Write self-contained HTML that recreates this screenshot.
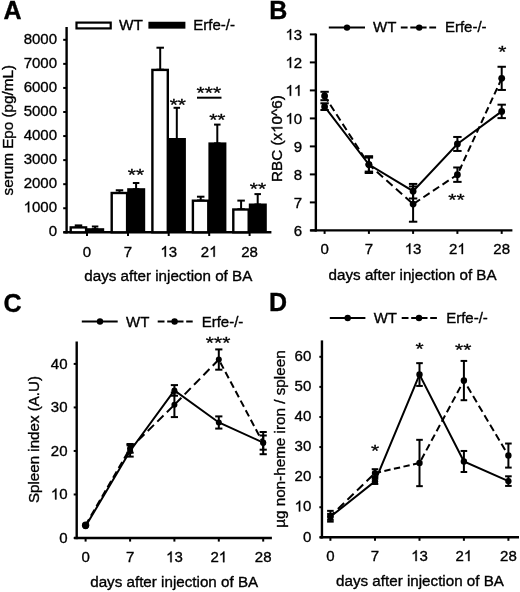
<!DOCTYPE html>
<html><head><meta charset="utf-8"><style>
html,body{margin:0;padding:0;background:#fff;}
svg{display:block;filter:blur(0.35px);}
text{font-family:"Liberation Sans", sans-serif;fill:#000;stroke:#000;stroke-width:0.35px;}
</style></head><body>
<svg width="520" height="592" viewBox="0 0 520 592">
<rect width="520" height="592" fill="#fff"/>
<text x="3.40" y="19.20" font-size="25" text-anchor="start" font-weight="bold">A</text>
<line x1="66.60" y1="27.00" x2="66.60" y2="233.50" stroke="#000" stroke-width="2.4"/>
<line x1="63.40" y1="232.30" x2="271.40" y2="232.30" stroke="#000" stroke-width="2.4"/>
<line x1="63.20" y1="232.30" x2="66.60" y2="232.30" stroke="#000" stroke-width="2"/>
<text x="48.66" y="236.40" font-size="15">0</text>
<line x1="63.20" y1="208.24" x2="66.60" y2="208.24" stroke="#000" stroke-width="2"/>
<polygon points="29.23,212.34 27.91,212.34 27.91,203.94 27.43,204.39 26.66,204.85 25.88,205.30 25.27,205.53 25.27,204.25 26.37,203.73 27.20,202.99 28.03,202.25 28.37,201.56 29.23,201.56" fill="#000" stroke="#000" stroke-width="0.35"/>
<text x="31.98" y="212.34" font-size="15">0</text>
<text x="40.32" y="212.34" font-size="15">0</text>
<text x="48.66" y="212.34" font-size="15">0</text>
<line x1="63.20" y1="184.18" x2="66.60" y2="184.18" stroke="#000" stroke-width="2"/>
<text x="23.64" y="188.28" font-size="15">2</text>
<text x="31.98" y="188.28" font-size="15">0</text>
<text x="40.32" y="188.28" font-size="15">0</text>
<text x="48.66" y="188.28" font-size="15">0</text>
<line x1="63.20" y1="160.12" x2="66.60" y2="160.12" stroke="#000" stroke-width="2"/>
<text x="23.64" y="164.22" font-size="15">3</text>
<text x="31.98" y="164.22" font-size="15">0</text>
<text x="40.32" y="164.22" font-size="15">0</text>
<text x="48.66" y="164.22" font-size="15">0</text>
<line x1="63.20" y1="136.06" x2="66.60" y2="136.06" stroke="#000" stroke-width="2"/>
<text x="23.64" y="140.16" font-size="15">4</text>
<text x="31.98" y="140.16" font-size="15">0</text>
<text x="40.32" y="140.16" font-size="15">0</text>
<text x="48.66" y="140.16" font-size="15">0</text>
<line x1="63.20" y1="112.00" x2="66.60" y2="112.00" stroke="#000" stroke-width="2"/>
<text x="23.64" y="116.10" font-size="15">5</text>
<text x="31.98" y="116.10" font-size="15">0</text>
<text x="40.32" y="116.10" font-size="15">0</text>
<text x="48.66" y="116.10" font-size="15">0</text>
<line x1="63.20" y1="87.94" x2="66.60" y2="87.94" stroke="#000" stroke-width="2"/>
<text x="23.64" y="92.04" font-size="15">6</text>
<text x="31.98" y="92.04" font-size="15">0</text>
<text x="40.32" y="92.04" font-size="15">0</text>
<text x="48.66" y="92.04" font-size="15">0</text>
<line x1="63.20" y1="63.88" x2="66.60" y2="63.88" stroke="#000" stroke-width="2"/>
<text x="23.64" y="67.98" font-size="15">7</text>
<text x="31.98" y="67.98" font-size="15">0</text>
<text x="40.32" y="67.98" font-size="15">0</text>
<text x="48.66" y="67.98" font-size="15">0</text>
<line x1="63.20" y1="39.82" x2="66.60" y2="39.82" stroke="#000" stroke-width="2"/>
<text x="23.64" y="43.92" font-size="15">8</text>
<text x="31.98" y="43.92" font-size="15">0</text>
<text x="40.32" y="43.92" font-size="15">0</text>
<text x="48.66" y="43.92" font-size="15">0</text>
<line x1="87.00" y1="232.30" x2="87.00" y2="236.00" stroke="#000" stroke-width="2"/>
<text x="82.83" y="256.70" font-size="15">0</text>
<line x1="128.00" y1="232.30" x2="128.00" y2="236.00" stroke="#000" stroke-width="2"/>
<text x="123.83" y="256.70" font-size="15">7</text>
<line x1="168.70" y1="232.30" x2="168.70" y2="236.00" stroke="#000" stroke-width="2"/>
<polygon points="165.95,256.70 164.63,256.70 164.63,248.30 164.15,248.75 163.38,249.21 162.60,249.66 161.99,249.89 161.99,248.61 163.09,248.09 163.92,247.35 164.75,246.61 165.09,245.92 165.95,245.92" fill="#000" stroke="#000" stroke-width="0.35"/>
<text x="168.70" y="256.70" font-size="15">3</text>
<line x1="209.20" y1="232.30" x2="209.20" y2="236.00" stroke="#000" stroke-width="2"/>
<text x="200.86" y="256.70" font-size="15">2</text>
<polygon points="214.79,256.70 213.47,256.70 213.47,248.30 212.99,248.75 212.22,249.21 211.44,249.66 210.83,249.89 210.83,248.61 211.93,248.09 212.76,247.35 213.59,246.61 213.93,245.92 214.79,245.92" fill="#000" stroke="#000" stroke-width="0.35"/>
<line x1="249.60" y1="232.30" x2="249.60" y2="236.00" stroke="#000" stroke-width="2"/>
<text x="241.26" y="256.70" font-size="15">2</text>
<text x="249.60" y="256.70" font-size="15">8</text>
<text x="168.30" y="281.00" font-size="15.2" text-anchor="middle">days after injection of BA</text>
<text transform="translate(12.60,130.20) rotate(-90)" x="0" y="0" font-size="15.25" text-anchor="middle">serum Epo (pg/mL)</text>
<line x1="78.50" y1="225.40" x2="78.50" y2="227.20" stroke="#000" stroke-width="2"/>
<line x1="74.75" y1="225.40" x2="82.25" y2="225.40" stroke="#000" stroke-width="2"/>
<line x1="74.75" y1="227.20" x2="82.25" y2="227.20" stroke="#000" stroke-width="2"/>
<rect x="70.70" y="227.40" width="15.40" height="4.90" fill="#fff" stroke="#000" stroke-width="2.4"/>
<line x1="95.10" y1="226.50" x2="95.10" y2="229.20" stroke="#000" stroke-width="2"/>
<line x1="91.85" y1="226.50" x2="98.35" y2="226.50" stroke="#000" stroke-width="2"/>
<line x1="91.85" y1="229.20" x2="98.35" y2="229.20" stroke="#000" stroke-width="2"/>
<rect x="86.20" y="228.20" width="18.00" height="4.10" fill="#000"/>
<line x1="119.50" y1="190.25" x2="119.50" y2="192.80" stroke="#000" stroke-width="2"/>
<line x1="115.75" y1="190.25" x2="123.25" y2="190.25" stroke="#000" stroke-width="2"/>
<line x1="115.75" y1="192.80" x2="123.25" y2="192.80" stroke="#000" stroke-width="2"/>
<rect x="111.70" y="193.00" width="15.40" height="39.30" fill="#fff" stroke="#000" stroke-width="2.4"/>
<line x1="136.10" y1="183.00" x2="136.10" y2="189.20" stroke="#000" stroke-width="2"/>
<line x1="132.85" y1="183.00" x2="139.35" y2="183.00" stroke="#000" stroke-width="2"/>
<line x1="132.85" y1="189.20" x2="139.35" y2="189.20" stroke="#000" stroke-width="2"/>
<rect x="127.20" y="188.20" width="18.00" height="44.10" fill="#000"/>
<line x1="160.20" y1="47.70" x2="160.20" y2="69.70" stroke="#000" stroke-width="2"/>
<line x1="156.45" y1="47.70" x2="163.95" y2="47.70" stroke="#000" stroke-width="2"/>
<line x1="156.45" y1="69.70" x2="163.95" y2="69.70" stroke="#000" stroke-width="2"/>
<rect x="152.40" y="69.90" width="15.40" height="162.40" fill="#fff" stroke="#000" stroke-width="2.4"/>
<line x1="176.80" y1="107.80" x2="176.80" y2="139.00" stroke="#000" stroke-width="2"/>
<line x1="173.55" y1="107.80" x2="180.05" y2="107.80" stroke="#000" stroke-width="2"/>
<line x1="173.55" y1="139.00" x2="180.05" y2="139.00" stroke="#000" stroke-width="2"/>
<rect x="167.90" y="138.00" width="18.00" height="94.30" fill="#000"/>
<line x1="200.70" y1="196.70" x2="200.70" y2="200.50" stroke="#000" stroke-width="2"/>
<line x1="196.95" y1="196.70" x2="204.45" y2="196.70" stroke="#000" stroke-width="2"/>
<line x1="196.95" y1="200.50" x2="204.45" y2="200.50" stroke="#000" stroke-width="2"/>
<rect x="192.90" y="200.70" width="15.40" height="31.60" fill="#fff" stroke="#000" stroke-width="2.4"/>
<line x1="217.30" y1="124.60" x2="217.30" y2="143.40" stroke="#000" stroke-width="2"/>
<line x1="214.05" y1="124.60" x2="220.55" y2="124.60" stroke="#000" stroke-width="2"/>
<line x1="214.05" y1="143.40" x2="220.55" y2="143.40" stroke="#000" stroke-width="2"/>
<rect x="208.40" y="142.40" width="18.00" height="89.90" fill="#000"/>
<line x1="241.10" y1="200.60" x2="241.10" y2="209.30" stroke="#000" stroke-width="2"/>
<line x1="237.35" y1="200.60" x2="244.85" y2="200.60" stroke="#000" stroke-width="2"/>
<line x1="237.35" y1="209.30" x2="244.85" y2="209.30" stroke="#000" stroke-width="2"/>
<rect x="233.30" y="209.50" width="15.40" height="22.80" fill="#fff" stroke="#000" stroke-width="2.4"/>
<line x1="257.70" y1="194.10" x2="257.70" y2="204.50" stroke="#000" stroke-width="2"/>
<line x1="254.45" y1="194.10" x2="260.95" y2="194.10" stroke="#000" stroke-width="2"/>
<line x1="254.45" y1="204.50" x2="260.95" y2="204.50" stroke="#000" stroke-width="2"/>
<rect x="248.80" y="203.50" width="18.00" height="28.80" fill="#000"/>
<text transform="translate(136.00,180.65) scale(1,0.82)" x="0" y="0" font-size="21" text-anchor="middle">**</text>
<text transform="translate(177.80,110.55) scale(1,0.82)" x="0" y="0" font-size="21" text-anchor="middle">**</text>
<text transform="translate(208.80,98.85) scale(1,0.82)" x="0" y="0" font-size="21" text-anchor="middle">***</text>
<line x1="197.00" y1="97.70" x2="221.50" y2="97.70" stroke="#000" stroke-width="2"/>
<text transform="translate(217.30,125.55) scale(1,0.82)" x="0" y="0" font-size="21" text-anchor="middle">**</text>
<text transform="translate(258.00,194.85) scale(1,0.82)" x="0" y="0" font-size="21" text-anchor="middle">**</text>
<rect x="76.5" y="22.6" width="34.2" height="5.8" fill="#fff" stroke="#000" stroke-width="2.2"/>
<rect x="148.4" y="21.75" width="37" height="6.9" fill="#000"/>
<text x="119.10" y="30.30" font-size="15.4" text-anchor="start">WT</text>
<text x="193.30" y="30.30" font-size="15" text-anchor="start">Erfe-/-</text>
<text x="269.20" y="19.20" font-size="25" text-anchor="start" font-weight="bold">B</text>
<line x1="315.85" y1="33.60" x2="315.85" y2="231.60" stroke="#000" stroke-width="2.4"/>
<line x1="310.30" y1="230.40" x2="512.40" y2="230.40" stroke="#000" stroke-width="2.4"/>
<line x1="309.85" y1="230.40" x2="315.85" y2="230.40" stroke="#000" stroke-width="2"/>
<text x="293.86" y="235.80" font-size="15">6</text>
<line x1="309.85" y1="202.40" x2="315.85" y2="202.40" stroke="#000" stroke-width="2"/>
<text x="293.86" y="207.80" font-size="15">7</text>
<line x1="309.85" y1="174.40" x2="315.85" y2="174.40" stroke="#000" stroke-width="2"/>
<text x="293.86" y="179.80" font-size="15">8</text>
<line x1="309.85" y1="146.40" x2="315.85" y2="146.40" stroke="#000" stroke-width="2"/>
<text x="293.86" y="151.80" font-size="15">9</text>
<line x1="309.85" y1="118.40" x2="315.85" y2="118.40" stroke="#000" stroke-width="2"/>
<polygon points="291.11,123.80 289.79,123.80 289.79,115.40 289.31,115.85 288.54,116.31 287.76,116.76 287.15,116.99 287.15,115.71 288.25,115.19 289.08,114.45 289.91,113.71 290.25,113.02 291.11,113.02" fill="#000" stroke="#000" stroke-width="0.35"/>
<text x="293.86" y="123.80" font-size="15">0</text>
<line x1="309.85" y1="90.40" x2="315.85" y2="90.40" stroke="#000" stroke-width="2"/>
<polygon points="291.11,95.80 289.79,95.80 289.79,87.40 289.31,87.85 288.54,88.31 287.76,88.76 287.15,88.99 287.15,87.71 288.25,87.19 289.08,86.45 289.91,85.71 290.25,85.02 291.11,85.02" fill="#000" stroke="#000" stroke-width="0.35"/>
<polygon points="299.45,95.80 298.13,95.80 298.13,87.40 297.65,87.85 296.88,88.31 296.10,88.76 295.49,88.99 295.49,87.71 296.59,87.19 297.42,86.45 298.25,85.71 298.59,85.02 299.45,85.02" fill="#000" stroke="#000" stroke-width="0.35"/>
<line x1="309.85" y1="62.40" x2="315.85" y2="62.40" stroke="#000" stroke-width="2"/>
<polygon points="291.11,67.80 289.79,67.80 289.79,59.40 289.31,59.85 288.54,60.31 287.76,60.76 287.15,60.99 287.15,59.71 288.25,59.19 289.08,58.45 289.91,57.71 290.25,57.02 291.11,57.02" fill="#000" stroke="#000" stroke-width="0.35"/>
<text x="293.86" y="67.80" font-size="15">2</text>
<line x1="309.85" y1="34.40" x2="315.85" y2="34.40" stroke="#000" stroke-width="2"/>
<polygon points="291.11,39.80 289.79,39.80 289.79,31.40 289.31,31.85 288.54,32.31 287.76,32.76 287.15,32.99 287.15,31.71 288.25,31.19 289.08,30.45 289.91,29.71 290.25,29.02 291.11,29.02" fill="#000" stroke="#000" stroke-width="0.35"/>
<text x="293.86" y="39.80" font-size="15">3</text>
<line x1="324.60" y1="230.40" x2="324.60" y2="233.90" stroke="#000" stroke-width="2"/>
<text x="320.43" y="254.10" font-size="15">0</text>
<line x1="368.90" y1="230.40" x2="368.90" y2="233.90" stroke="#000" stroke-width="2"/>
<text x="364.73" y="254.10" font-size="15">7</text>
<line x1="413.10" y1="230.40" x2="413.10" y2="233.90" stroke="#000" stroke-width="2"/>
<polygon points="410.35,254.10 409.03,254.10 409.03,245.70 408.55,246.15 407.78,246.61 407.00,247.06 406.39,247.29 406.39,246.01 407.49,245.49 408.32,244.75 409.15,244.01 409.49,243.32 410.35,243.32" fill="#000" stroke="#000" stroke-width="0.35"/>
<text x="413.10" y="254.10" font-size="15">3</text>
<line x1="457.40" y1="230.40" x2="457.40" y2="233.90" stroke="#000" stroke-width="2"/>
<text x="449.06" y="254.10" font-size="15">2</text>
<polygon points="462.99,254.10 461.67,254.10 461.67,245.70 461.19,246.15 460.42,246.61 459.64,247.06 459.03,247.29 459.03,246.01 460.13,245.49 460.96,244.75 461.79,244.01 462.13,243.32 462.99,243.32" fill="#000" stroke="#000" stroke-width="0.35"/>
<line x1="501.70" y1="230.40" x2="501.70" y2="233.90" stroke="#000" stroke-width="2"/>
<text x="493.36" y="254.10" font-size="15">2</text>
<text x="501.70" y="254.10" font-size="15">8</text>
<text x="412.60" y="280.40" font-size="15.2" text-anchor="middle">days after injection of BA</text>
<g transform="translate(282.40,138.60) rotate(-90)"><text x="-43.47" y="0" font-size="15.27">RBC (x</text><polygon points="11.43,0.00 10.08,0.00 10.08,-8.55 9.60,-8.09 8.81,-7.63 8.02,-7.17 7.39,-6.93 7.39,-8.23 8.52,-8.76 9.36,-9.51 10.20,-10.27 10.55,-10.98 11.43,-10.98" fill="#000" stroke="#000" stroke-width="0.35"/><text x="14.23" y="0" font-size="15.27">0^6)</text></g>
<line x1="324.60" y1="103.28" x2="324.60" y2="110.00" stroke="#000" stroke-width="2"/>
<line x1="320.40" y1="103.28" x2="328.80" y2="103.28" stroke="#000" stroke-width="2"/>
<line x1="320.40" y1="110.00" x2="328.80" y2="110.00" stroke="#000" stroke-width="2"/>
<line x1="324.60" y1="91.80" x2="324.60" y2="100.20" stroke="#000" stroke-width="2"/>
<line x1="320.40" y1="91.80" x2="328.80" y2="91.80" stroke="#000" stroke-width="2"/>
<line x1="320.40" y1="100.20" x2="328.80" y2="100.20" stroke="#000" stroke-width="2"/>
<line x1="368.90" y1="156.20" x2="368.90" y2="173.00" stroke="#000" stroke-width="2"/>
<line x1="364.70" y1="156.20" x2="373.10" y2="156.20" stroke="#000" stroke-width="2"/>
<line x1="364.70" y1="173.00" x2="373.10" y2="173.00" stroke="#000" stroke-width="2"/>
<line x1="368.90" y1="157.60" x2="368.90" y2="171.60" stroke="#000" stroke-width="2"/>
<line x1="364.70" y1="157.60" x2="373.10" y2="157.60" stroke="#000" stroke-width="2"/>
<line x1="364.70" y1="171.60" x2="373.10" y2="171.60" stroke="#000" stroke-width="2"/>
<line x1="413.10" y1="183.92" x2="413.10" y2="198.48" stroke="#000" stroke-width="2"/>
<line x1="408.90" y1="183.92" x2="417.30" y2="183.92" stroke="#000" stroke-width="2"/>
<line x1="408.90" y1="198.48" x2="417.30" y2="198.48" stroke="#000" stroke-width="2"/>
<line x1="413.10" y1="186.44" x2="413.10" y2="221.72" stroke="#000" stroke-width="2"/>
<line x1="408.90" y1="186.44" x2="417.30" y2="186.44" stroke="#000" stroke-width="2"/>
<line x1="408.90" y1="221.72" x2="417.30" y2="221.72" stroke="#000" stroke-width="2"/>
<line x1="457.40" y1="136.96" x2="457.40" y2="150.96" stroke="#000" stroke-width="2"/>
<line x1="453.20" y1="136.96" x2="461.60" y2="136.96" stroke="#000" stroke-width="2"/>
<line x1="453.20" y1="150.96" x2="461.60" y2="150.96" stroke="#000" stroke-width="2"/>
<line x1="457.40" y1="167.48" x2="457.40" y2="181.88" stroke="#000" stroke-width="2"/>
<line x1="453.20" y1="167.48" x2="461.60" y2="167.48" stroke="#000" stroke-width="2"/>
<line x1="453.20" y1="181.88" x2="461.60" y2="181.88" stroke="#000" stroke-width="2"/>
<line x1="501.70" y1="104.68" x2="501.70" y2="118.12" stroke="#000" stroke-width="2"/>
<line x1="497.50" y1="104.68" x2="505.90" y2="104.68" stroke="#000" stroke-width="2"/>
<line x1="497.50" y1="118.12" x2="505.90" y2="118.12" stroke="#000" stroke-width="2"/>
<line x1="501.70" y1="66.77" x2="501.70" y2="89.95" stroke="#000" stroke-width="2"/>
<line x1="497.50" y1="66.77" x2="505.90" y2="66.77" stroke="#000" stroke-width="2"/>
<line x1="497.50" y1="89.95" x2="505.90" y2="89.95" stroke="#000" stroke-width="2"/>
<polyline points="324.60,106.64 368.90,164.60 413.10,191.20 457.40,143.96 501.70,111.40" fill="none" stroke="#000" stroke-width="2"/>
<path d="M324.60 96.00L328.11 101.43 M330.27 104.78L334.27 110.98 M336.44 114.33L340.44 120.53 M342.60 123.88L346.61 130.08 M348.77 133.43L352.78 139.63 M354.94 142.98L358.94 149.18 M361.11 152.53L365.11 158.73 M367.27 162.08L368.90 164.60 M368.90 164.60L373.47 168.68 M376.82 171.67L383.02 177.21 M386.37 180.20L392.57 185.74 M395.92 188.73L402.12 194.27 M405.47 197.26L411.67 202.80 M413.85 203.58L420.05 199.47 M423.40 197.24L429.60 193.13 M432.95 190.91L439.15 186.79 M442.50 184.57L448.70 180.45 M452.05 178.23L457.40 174.68 M457.40 174.68L457.67 174.10 M459.21 170.75L462.06 164.55 M463.60 161.20L466.45 155.00 M467.99 151.65L470.84 145.45 M472.38 142.10L475.24 135.90 M476.78 132.55L479.63 126.35 M481.17 123.00L484.02 116.80 M485.56 113.45L488.41 107.25 M489.95 103.90L492.81 97.70 M494.35 94.35L497.20 88.15 M498.74 84.80L501.59 78.60" fill="none" stroke="#000" stroke-width="2"/>
<circle cx="324.60" cy="106.64" r="3.4" fill="#000"/>
<circle cx="324.60" cy="96.00" r="3.4" fill="#000"/>
<circle cx="368.90" cy="164.60" r="3.4" fill="#000"/>
<circle cx="368.90" cy="164.60" r="3.4" fill="#000"/>
<circle cx="413.10" cy="191.20" r="3.4" fill="#000"/>
<circle cx="413.10" cy="204.08" r="3.4" fill="#000"/>
<circle cx="457.40" cy="143.96" r="3.4" fill="#000"/>
<circle cx="457.40" cy="174.68" r="3.4" fill="#000"/>
<circle cx="501.70" cy="111.40" r="3.4" fill="#000"/>
<circle cx="501.70" cy="78.36" r="3.4" fill="#000"/>
<line x1="328.80" y1="27.60" x2="365.00" y2="27.60" stroke="#000" stroke-width="2"/>
<circle cx="347.00" cy="27.60" r="3.2" fill="#000"/>
<text x="373.00" y="32.40" font-size="15" text-anchor="start">WT</text>
<line x1="400.80" y1="27.60" x2="436.80" y2="27.60" stroke="#000" stroke-width="2" stroke-dasharray="6.8,2.7"/>
<circle cx="419.20" cy="27.60" r="3.2" fill="#000"/>
<text x="444.90" y="32.40" font-size="15" text-anchor="start">Erfe-/-</text>
<text transform="translate(502.40,58.05) scale(1,0.82)" x="0" y="0" font-size="21" text-anchor="middle">*</text>
<text transform="translate(456.50,206.05) scale(1,0.82)" x="0" y="0" font-size="21" text-anchor="middle">**</text>
<text x="3.40" y="311.80" font-size="25" text-anchor="start" font-weight="bold">C</text>
<line x1="76.70" y1="341.50" x2="76.70" y2="539.20" stroke="#000" stroke-width="2.4"/>
<line x1="74.00" y1="538.00" x2="271.90" y2="538.00" stroke="#000" stroke-width="2.4"/>
<line x1="73.70" y1="538.00" x2="76.70" y2="538.00" stroke="#000" stroke-width="2"/>
<text x="59.16" y="542.90" font-size="15">0</text>
<line x1="73.70" y1="494.48" x2="76.70" y2="494.48" stroke="#000" stroke-width="2"/>
<polygon points="56.41,499.38 55.09,499.38 55.09,490.97 54.61,491.43 53.84,491.88 53.06,492.34 52.45,492.56 52.45,491.29 53.55,490.77 54.38,490.03 55.21,489.29 55.55,488.59 56.41,488.59" fill="#000" stroke="#000" stroke-width="0.35"/>
<text x="59.16" y="499.38" font-size="15">0</text>
<line x1="73.70" y1="450.95" x2="76.70" y2="450.95" stroke="#000" stroke-width="2"/>
<text x="50.82" y="455.85" font-size="15">2</text>
<text x="59.16" y="455.85" font-size="15">0</text>
<line x1="73.70" y1="407.43" x2="76.70" y2="407.43" stroke="#000" stroke-width="2"/>
<text x="50.82" y="412.32" font-size="15">3</text>
<text x="59.16" y="412.32" font-size="15">0</text>
<line x1="73.70" y1="363.90" x2="76.70" y2="363.90" stroke="#000" stroke-width="2"/>
<text x="50.82" y="368.80" font-size="15">4</text>
<text x="59.16" y="368.80" font-size="15">0</text>
<line x1="85.60" y1="538.00" x2="85.60" y2="541.60" stroke="#000" stroke-width="2"/>
<text x="81.43" y="562.20" font-size="15">0</text>
<line x1="130.10" y1="538.00" x2="130.10" y2="541.60" stroke="#000" stroke-width="2"/>
<text x="125.93" y="562.20" font-size="15">7</text>
<line x1="174.40" y1="538.00" x2="174.40" y2="541.60" stroke="#000" stroke-width="2"/>
<polygon points="171.65,562.20 170.33,562.20 170.33,553.80 169.85,554.25 169.08,554.71 168.30,555.16 167.69,555.39 167.69,554.11 168.79,553.59 169.62,552.85 170.45,552.11 170.79,551.42 171.65,551.42" fill="#000" stroke="#000" stroke-width="0.35"/>
<text x="174.40" y="562.20" font-size="15">3</text>
<line x1="218.80" y1="538.00" x2="218.80" y2="541.60" stroke="#000" stroke-width="2"/>
<text x="210.46" y="562.20" font-size="15">2</text>
<polygon points="224.39,562.20 223.07,562.20 223.07,553.80 222.59,554.25 221.82,554.71 221.04,555.16 220.43,555.39 220.43,554.11 221.53,553.59 222.36,552.85 223.19,552.11 223.53,551.42 224.39,551.42" fill="#000" stroke="#000" stroke-width="0.35"/>
<line x1="263.20" y1="538.00" x2="263.20" y2="541.60" stroke="#000" stroke-width="2"/>
<text x="254.86" y="562.20" font-size="15">2</text>
<text x="263.20" y="562.20" font-size="15">8</text>
<text x="174.20" y="587.20" font-size="15.2" text-anchor="middle">days after injection of BA</text>
<text transform="translate(39.00,439.50) rotate(-90)" x="0" y="0" font-size="15.15" text-anchor="middle">Spleen index (A.U)</text>
<line x1="130.10" y1="445.29" x2="130.10" y2="456.61" stroke="#000" stroke-width="2"/>
<line x1="126.50" y1="445.29" x2="133.70" y2="445.29" stroke="#000" stroke-width="2"/>
<line x1="126.50" y1="456.61" x2="133.70" y2="456.61" stroke="#000" stroke-width="2"/>
<line x1="130.10" y1="443.99" x2="130.10" y2="452.69" stroke="#000" stroke-width="2"/>
<line x1="126.50" y1="443.99" x2="133.70" y2="443.99" stroke="#000" stroke-width="2"/>
<line x1="126.50" y1="452.69" x2="133.70" y2="452.69" stroke="#000" stroke-width="2"/>
<line x1="174.40" y1="385.10" x2="174.40" y2="395.72" stroke="#000" stroke-width="2"/>
<line x1="170.80" y1="385.10" x2="178.00" y2="385.10" stroke="#000" stroke-width="2"/>
<line x1="170.80" y1="395.72" x2="178.00" y2="395.72" stroke="#000" stroke-width="2"/>
<line x1="174.40" y1="392.54" x2="174.40" y2="417.09" stroke="#000" stroke-width="2"/>
<line x1="170.80" y1="392.54" x2="178.00" y2="392.54" stroke="#000" stroke-width="2"/>
<line x1="170.80" y1="417.09" x2="178.00" y2="417.09" stroke="#000" stroke-width="2"/>
<line x1="218.80" y1="416.39" x2="218.80" y2="428.58" stroke="#000" stroke-width="2"/>
<line x1="215.20" y1="416.39" x2="222.40" y2="416.39" stroke="#000" stroke-width="2"/>
<line x1="215.20" y1="428.58" x2="222.40" y2="428.58" stroke="#000" stroke-width="2"/>
<line x1="218.80" y1="349.41" x2="218.80" y2="369.69" stroke="#000" stroke-width="2"/>
<line x1="215.20" y1="349.41" x2="222.40" y2="349.41" stroke="#000" stroke-width="2"/>
<line x1="215.20" y1="369.69" x2="222.40" y2="369.69" stroke="#000" stroke-width="2"/>
<line x1="263.20" y1="435.50" x2="263.20" y2="449.69" stroke="#000" stroke-width="2"/>
<line x1="259.60" y1="435.50" x2="266.80" y2="435.50" stroke="#000" stroke-width="2"/>
<line x1="259.60" y1="449.69" x2="266.80" y2="449.69" stroke="#000" stroke-width="2"/>
<line x1="263.20" y1="432.02" x2="263.20" y2="454.21" stroke="#000" stroke-width="2"/>
<line x1="259.60" y1="432.02" x2="266.80" y2="432.02" stroke="#000" stroke-width="2"/>
<line x1="259.60" y1="454.21" x2="266.80" y2="454.21" stroke="#000" stroke-width="2"/>
<polyline points="85.60,526.34 130.10,450.95 174.40,390.41 218.80,422.48 263.20,442.59" fill="none" stroke="#000" stroke-width="2"/>
<path d="M85.60 525.03L88.99 519.18 M90.94 515.83L94.54 509.63 M96.48 506.28L100.08 500.08 M102.02 496.73L105.62 490.53 M107.56 487.18L111.16 480.98 M113.10 477.63L116.70 471.43 M118.65 468.08L122.24 461.88 M124.19 458.53L127.78 452.33 M129.73 448.98L130.10 448.34 M130.10 448.34L134.86 443.66 M138.21 440.37L144.41 434.28 M147.76 430.99L153.96 424.90 M157.31 421.61L163.51 415.51 M166.86 412.22L173.06 406.13 M175.29 403.90L181.37 397.70 M184.66 394.35L190.74 388.15 M194.03 384.80L200.11 378.60 M203.39 375.25L209.47 369.05 M212.76 365.70L218.80 359.55 M220.34 362.44L223.63 368.64 M225.41 371.99L228.71 378.19 M230.48 381.54L233.78 387.74 M235.56 391.09L238.85 397.29 M240.63 400.64L243.93 406.84 M245.71 410.19L249.00 416.39 M250.78 419.74L254.07 425.94 M255.85 429.29L259.15 435.49 M260.93 438.84L263.20 443.12" fill="none" stroke="#000" stroke-width="2"/>
<circle cx="85.60" cy="526.34" r="3.0" fill="#000"/>
<circle cx="85.60" cy="525.03" r="3.0" fill="#000"/>
<circle cx="130.10" cy="450.95" r="3.0" fill="#000"/>
<circle cx="130.10" cy="448.34" r="3.0" fill="#000"/>
<circle cx="174.40" cy="390.41" r="3.0" fill="#000"/>
<circle cx="174.40" cy="404.81" r="3.0" fill="#000"/>
<circle cx="218.80" cy="422.48" r="3.0" fill="#000"/>
<circle cx="218.80" cy="359.55" r="3.0" fill="#000"/>
<circle cx="263.20" cy="442.59" r="3.0" fill="#000"/>
<circle cx="263.20" cy="443.12" r="3.0" fill="#000"/>
<line x1="81.80" y1="321.50" x2="117.70" y2="321.50" stroke="#000" stroke-width="2"/>
<circle cx="100.00" cy="321.50" r="3.2" fill="#000"/>
<text x="126.00" y="326.60" font-size="15" text-anchor="start">WT</text>
<line x1="157.70" y1="321.50" x2="192.70" y2="321.50" stroke="#000" stroke-width="2" stroke-dasharray="6.8,2.7"/>
<circle cx="174.60" cy="321.50" r="3.2" fill="#000"/>
<text x="201.70" y="326.60" font-size="15" text-anchor="start">Erfe-/-</text>
<text transform="translate(218.10,348.95) scale(1,0.82)" x="0" y="0" font-size="21" text-anchor="middle">***</text>
<circle cx="85.60" cy="525.30" r="3.7" fill="#000"/>
<text x="269.00" y="311.20" font-size="25" text-anchor="start" font-weight="bold">D</text>
<line x1="321.95" y1="340.40" x2="321.95" y2="538.50" stroke="#000" stroke-width="2.4"/>
<line x1="319.80" y1="537.30" x2="519.00" y2="537.30" stroke="#000" stroke-width="2.4"/>
<line x1="319.35" y1="537.30" x2="321.95" y2="537.30" stroke="#000" stroke-width="2"/>
<text x="302.96" y="541.50" font-size="15">0</text>
<line x1="319.35" y1="507.22" x2="321.95" y2="507.22" stroke="#000" stroke-width="2"/>
<polygon points="300.21,511.42 298.89,511.42 298.89,503.02 298.41,503.47 297.64,503.92 296.86,504.38 296.25,504.61 296.25,503.33 297.35,502.81 298.18,502.07 299.01,501.33 299.35,500.64 300.21,500.64" fill="#000" stroke="#000" stroke-width="0.35"/>
<text x="302.96" y="511.42" font-size="15">0</text>
<line x1="319.35" y1="477.13" x2="321.95" y2="477.13" stroke="#000" stroke-width="2"/>
<text x="294.62" y="481.33" font-size="15">2</text>
<text x="302.96" y="481.33" font-size="15">0</text>
<line x1="319.35" y1="447.05" x2="321.95" y2="447.05" stroke="#000" stroke-width="2"/>
<text x="294.62" y="451.25" font-size="15">3</text>
<text x="302.96" y="451.25" font-size="15">0</text>
<line x1="319.35" y1="416.97" x2="321.95" y2="416.97" stroke="#000" stroke-width="2"/>
<text x="294.62" y="421.17" font-size="15">4</text>
<text x="302.96" y="421.17" font-size="15">0</text>
<line x1="319.35" y1="386.88" x2="321.95" y2="386.88" stroke="#000" stroke-width="2"/>
<text x="294.62" y="391.08" font-size="15">5</text>
<text x="302.96" y="391.08" font-size="15">0</text>
<line x1="319.35" y1="356.80" x2="321.95" y2="356.80" stroke="#000" stroke-width="2"/>
<text x="294.62" y="361.00" font-size="15">6</text>
<text x="302.96" y="361.00" font-size="15">0</text>
<line x1="330.40" y1="537.30" x2="330.40" y2="540.80" stroke="#000" stroke-width="2"/>
<text x="326.23" y="561.10" font-size="15">0</text>
<line x1="375.00" y1="537.30" x2="375.00" y2="540.80" stroke="#000" stroke-width="2"/>
<text x="370.83" y="561.10" font-size="15">7</text>
<line x1="419.50" y1="537.30" x2="419.50" y2="540.80" stroke="#000" stroke-width="2"/>
<polygon points="416.75,561.10 415.43,561.10 415.43,552.70 414.95,553.15 414.18,553.61 413.40,554.06 412.79,554.29 412.79,553.01 413.89,552.49 414.72,551.75 415.55,551.01 415.89,550.32 416.75,550.32" fill="#000" stroke="#000" stroke-width="0.35"/>
<text x="419.50" y="561.10" font-size="15">3</text>
<line x1="463.90" y1="537.30" x2="463.90" y2="540.80" stroke="#000" stroke-width="2"/>
<text x="455.56" y="561.10" font-size="15">2</text>
<polygon points="469.49,561.10 468.17,561.10 468.17,552.70 467.69,553.15 466.92,553.61 466.14,554.06 465.53,554.29 465.53,553.01 466.63,552.49 467.46,551.75 468.29,551.01 468.63,550.32 469.49,550.32" fill="#000" stroke="#000" stroke-width="0.35"/>
<line x1="508.40" y1="537.30" x2="508.40" y2="540.80" stroke="#000" stroke-width="2"/>
<text x="500.06" y="561.10" font-size="15">2</text>
<text x="508.40" y="561.10" font-size="15">8</text>
<text x="420.00" y="586.30" font-size="15.2" text-anchor="middle">days after injection of BA</text>
<text transform="translate(285.00,439.10) rotate(-90)" x="0" y="0" font-size="15.25" text-anchor="middle">µg non-heme iron / spleen</text>
<line x1="330.40" y1="513.84" x2="330.40" y2="519.85" stroke="#000" stroke-width="2"/>
<line x1="327.10" y1="513.84" x2="333.70" y2="513.84" stroke="#000" stroke-width="2"/>
<line x1="327.10" y1="519.85" x2="333.70" y2="519.85" stroke="#000" stroke-width="2"/>
<line x1="330.40" y1="510.86" x2="330.40" y2="521.63" stroke="#000" stroke-width="2"/>
<line x1="327.10" y1="510.86" x2="333.70" y2="510.86" stroke="#000" stroke-width="2"/>
<line x1="327.10" y1="521.63" x2="333.70" y2="521.63" stroke="#000" stroke-width="2"/>
<line x1="375.00" y1="478.73" x2="375.00" y2="483.96" stroke="#000" stroke-width="2"/>
<line x1="371.70" y1="478.73" x2="378.30" y2="478.73" stroke="#000" stroke-width="2"/>
<line x1="371.70" y1="483.96" x2="378.30" y2="483.96" stroke="#000" stroke-width="2"/>
<line x1="375.00" y1="469.19" x2="375.00" y2="477.01" stroke="#000" stroke-width="2"/>
<line x1="371.70" y1="469.19" x2="378.30" y2="469.19" stroke="#000" stroke-width="2"/>
<line x1="371.70" y1="477.01" x2="378.30" y2="477.01" stroke="#000" stroke-width="2"/>
<line x1="419.50" y1="363.15" x2="419.50" y2="385.95" stroke="#000" stroke-width="2"/>
<line x1="416.20" y1="363.15" x2="422.80" y2="363.15" stroke="#000" stroke-width="2"/>
<line x1="416.20" y1="385.95" x2="422.80" y2="385.95" stroke="#000" stroke-width="2"/>
<line x1="419.50" y1="439.83" x2="419.50" y2="486.16" stroke="#000" stroke-width="2"/>
<line x1="416.20" y1="439.83" x2="422.80" y2="439.83" stroke="#000" stroke-width="2"/>
<line x1="416.20" y1="486.16" x2="422.80" y2="486.16" stroke="#000" stroke-width="2"/>
<line x1="463.90" y1="450.96" x2="463.90" y2="472.02" stroke="#000" stroke-width="2"/>
<line x1="460.60" y1="450.96" x2="467.20" y2="450.96" stroke="#000" stroke-width="2"/>
<line x1="460.60" y1="472.02" x2="467.20" y2="472.02" stroke="#000" stroke-width="2"/>
<line x1="463.90" y1="360.92" x2="463.90" y2="400.21" stroke="#000" stroke-width="2"/>
<line x1="460.60" y1="360.92" x2="467.20" y2="360.92" stroke="#000" stroke-width="2"/>
<line x1="460.60" y1="400.21" x2="467.20" y2="400.21" stroke="#000" stroke-width="2"/>
<line x1="508.40" y1="476.29" x2="508.40" y2="485.92" stroke="#000" stroke-width="2"/>
<line x1="505.10" y1="476.29" x2="511.70" y2="476.29" stroke="#000" stroke-width="2"/>
<line x1="505.10" y1="485.92" x2="511.70" y2="485.92" stroke="#000" stroke-width="2"/>
<line x1="508.40" y1="443.53" x2="508.40" y2="467.60" stroke="#000" stroke-width="2"/>
<line x1="505.10" y1="443.53" x2="511.70" y2="443.53" stroke="#000" stroke-width="2"/>
<line x1="505.10" y1="467.60" x2="511.70" y2="467.60" stroke="#000" stroke-width="2"/>
<polyline points="330.40,516.84 375.00,481.35 419.50,374.55 463.90,461.49 508.40,481.10" fill="none" stroke="#000" stroke-width="2"/>
<path d="M330.40 516.24L334.55 512.23 M337.90 508.99L344.10 502.99 M347.45 499.75L353.65 493.75 M357.00 490.51L363.20 484.52 M366.55 481.28L372.75 475.28 M375.00 473.10L381.00 471.74 M384.35 470.98L390.55 469.57 M393.90 468.81L400.10 467.40 M403.45 466.64L409.65 465.23 M413.00 464.47L419.20 463.06 M421.14 459.94L424.48 453.74 M426.29 450.39L429.63 444.19 M431.43 440.84L434.77 434.64 M436.58 431.29L439.92 425.09 M441.72 421.74L445.06 415.54 M446.86 412.19L450.20 405.99 M452.01 402.64L455.35 396.44 M457.15 393.09L460.49 386.89 M462.30 383.54L463.90 380.57 M463.90 380.57L465.46 383.19 M467.44 386.54L471.12 392.74 M473.11 396.09L476.79 402.29 M478.78 405.64L482.46 411.84 M484.44 415.19L488.12 421.39 M490.11 424.74L493.79 430.94 M495.78 434.29L499.46 440.49 M501.44 443.84L505.12 450.04 M507.11 453.39L508.40 455.56" fill="none" stroke="#000" stroke-width="2"/>
<circle cx="330.40" cy="516.84" r="3.2" fill="#000"/>
<circle cx="330.40" cy="516.24" r="3.2" fill="#000"/>
<circle cx="375.00" cy="481.35" r="3.2" fill="#000"/>
<circle cx="375.00" cy="473.10" r="3.2" fill="#000"/>
<circle cx="419.50" cy="374.55" r="3.2" fill="#000"/>
<circle cx="419.50" cy="462.99" r="3.2" fill="#000"/>
<circle cx="463.90" cy="461.49" r="3.2" fill="#000"/>
<circle cx="463.90" cy="380.57" r="3.2" fill="#000"/>
<circle cx="508.40" cy="481.10" r="3.2" fill="#000"/>
<circle cx="508.40" cy="455.56" r="3.2" fill="#000"/>
<line x1="329.80" y1="318.00" x2="365.40" y2="318.00" stroke="#000" stroke-width="2"/>
<circle cx="347.70" cy="318.00" r="3.2" fill="#000"/>
<text x="373.70" y="323.00" font-size="15" text-anchor="start">WT</text>
<line x1="401.70" y1="318.00" x2="436.90" y2="318.00" stroke="#000" stroke-width="2" stroke-dasharray="6.8,2.7"/>
<circle cx="419.00" cy="318.00" r="3.2" fill="#000"/>
<text x="446.20" y="322.60" font-size="15" text-anchor="start">Erfe-/-</text>
<text transform="translate(375.20,457.45) scale(1,0.82)" x="0" y="0" font-size="21" text-anchor="middle">*</text>
<text transform="translate(419.50,355.05) scale(1,0.82)" x="0" y="0" font-size="21" text-anchor="middle">*</text>
<text transform="translate(463.20,355.85) scale(1,0.82)" x="0" y="0" font-size="21" text-anchor="middle">**</text>
</svg>
</body></html>
